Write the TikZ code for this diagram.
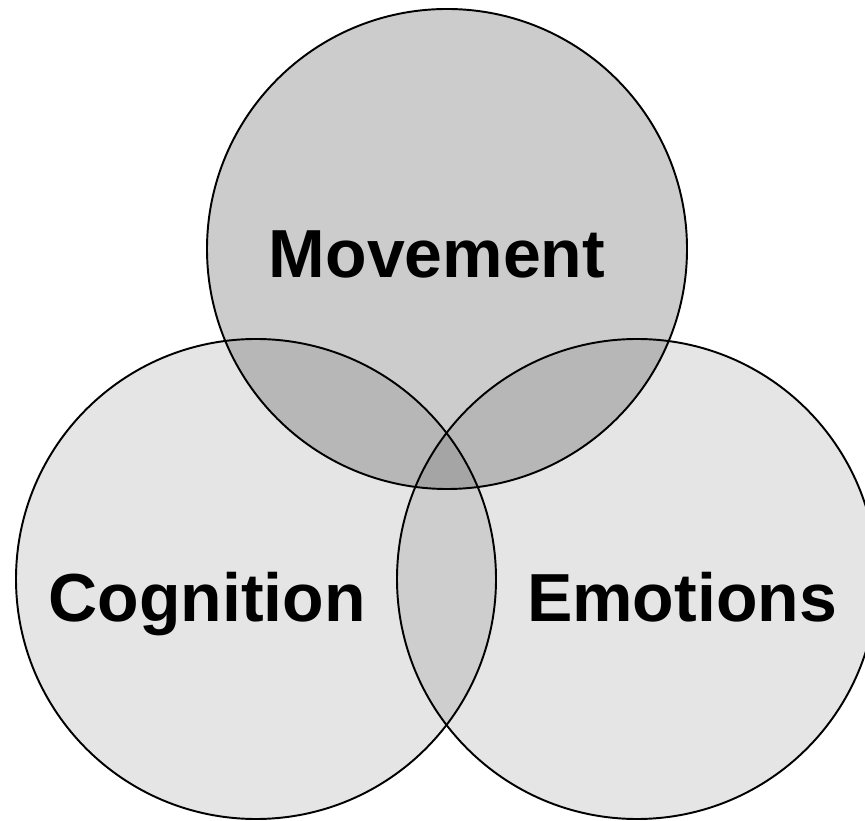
\documentclass[tikz,border=0pt]{standalone}
\usepackage{fontspec}
\setmainfont{Liberation Sans}
\usepackage{tikz}
\usetikzlibrary{positioning}

\begin{document}
\begin{tikzpicture}
      \tikzstyle{vcirc} = [line width=1.1pt, draw=black, circle, minimum size = 9.6cm, inner sep = 0pt, fill=black]
      \tikzstyle{vlabel} = [anchor=base, inner sep = 0pt, font=\fontsize{38.7}{46}\selectfont\bfseries]

      \useasboundingbox (0,0) rectangle (17.3,16.4);
      \clip (0,0) rectangle (17.3,16.4);

      %%%%%%%%%%%%%%%%%%%%%%%%%%%%%% 
      %% The three circles
      %%%%%%%%%%%%%%%%%%%%%%%%%%%%%% 
      \node[vcirc, fill opacity=0.1] (cog) at (5.12,4.82) {};
      \node[vcirc, fill opacity=0.1] (emo) at (12.74,4.82) {};
      \node[vcirc, fill opacity=0.2] (mov) at (8.94,11.42) {};

      %%%%%%%%%%%%%%%%%%%%%%%%%%%%%% 
      %% The labels
      %%%%%%%%%%%%%%%%%%%%%%%%%%%%%% 
      \node[vlabel] (lmov) at (8.74,10.84) {Movement};
      \node[vlabel] (lcog) at (4.14,3.96) {Cognition};
      \node[vlabel] (lemo) at (13.64,3.96) {Emotions};

\end{tikzpicture}
\end{document}
